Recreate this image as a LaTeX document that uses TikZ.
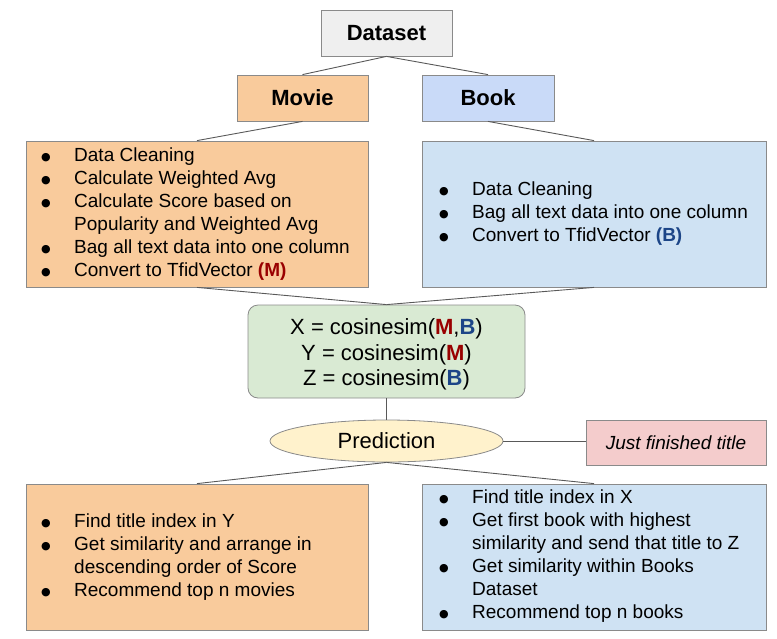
\documentclass[tikz,border=0pt]{standalone}
\usepackage{fontspec}
\setmainfont{Liberation Sans}
\newfontfamily\dejavu{DejaVu Sans}
\usetikzlibrary{shapes.geometric,shadows}
\definecolor{dsgray}{HTML}{EFEFEF}
\definecolor{orange}{HTML}{F9CB9C}
\definecolor{bookblue}{HTML}{C9DAF8}
\definecolor{listblue}{HTML}{CFE2F3}
\definecolor{cosgreen}{HTML}{D9EAD3}
\definecolor{predyellow}{HTML}{FFF2CC}
\definecolor{jftpink}{HTML}{F4CCCC}
\definecolor{bordergray}{HTML}{8A8A8A}
\definecolor{linegray}{HTML}{595959}
\definecolor{mred}{HTML}{990000}
\definecolor{bblue}{HTML}{1C4587}
\newcommand\bitem[1]{\makebox[33pt][l]{\raisebox{1.5pt}{\dejavu\fontsize{11}{12}\selectfont ●}}#1}
\newcommand\bcont[1]{\hspace*{33pt}#1}
\newcommand\MM{\textcolor{mred}{\textbf{M}}}
\newcommand\BB{\textcolor{bblue}{\textbf{B}}}
\begin{document}
\begin{tikzpicture}[x=1pt,y=-1pt,
  box/.style={draw=bordergray, line width=0.8pt, inner sep=0pt},
  conn/.style={draw=linegray, line width=0.9pt},
  txt/.style={inner sep=0pt, anchor=base west, font=\fontsize{19}{23}\selectfont},
  big/.style={font=\fontsize{22}{26}\selectfont\bfseries}]
\useasboundingbox (0,0) rectangle (777,638);
% boxes
\node[box, fill=dsgray, minimum width=131pt, minimum height=46pt, big,
  drop shadow={shadow xshift=1.2pt, shadow yshift=-1.2pt, opacity=0.35, fill=gray}]
  (dataset) at (386.5,33) {Dataset};
\node[box, fill=orange, minimum width=131pt, minimum height=46pt, big] (movie) at (302.5,98) {Movie};
\node[box, fill=bookblue, minimum width=132pt, minimum height=46pt, big] (book) at (488,98) {Book};
\node[box, fill=orange, minimum width=342pt, minimum height=146pt] (mlist) at (197,214) {};
\node[box, fill=listblue, minimum width=344pt, minimum height=146pt] (blist) at (594,214) {};
\node[box, fill=cosgreen, rounded corners=10pt, minimum width=277pt, minimum height=93pt] (cos) at (386.5,351.5) {};
\node[box, fill=predyellow, ellipse, minimum width=233pt, minimum height=42pt, font=\fontsize{22}{26}\selectfont] (pred) at (386.5,441) {Prediction};
\node[box, fill=jftpink, minimum width=180pt, minimum height=45pt, font=\fontsize{19}{23}\selectfont\itshape] (jft) at (676,442.5) {Just finished title};
\node[box, fill=orange, minimum width=342pt, minimum height=146pt] (bl) at (197,557) {};
\node[box, fill=listblue, minimum width=344pt, minimum height=146pt] (br) at (594,557) {};
% texts
\node[txt] (mtxt) at (41,161.8) {\begin{tabular}[t]{@{}l@{}}
\bitem{Data Cleaning}\\
\bitem{Calculate Weighted Avg}\\
\bitem{Calculate Score based on}\\
\bcont{Popularity and Weighted Avg}\\
\bitem{Bag all text data into one column}\\
\bitem{Convert to TfidVector \textbf{\textcolor{mred}{(M)}}}
\end{tabular}};
\node[txt] (btxt) at (439,195.8) {\begin{tabular}[t]{@{}l@{}}
\bitem{Data Cleaning}\\
\bitem{Bag all text data into one column}\\
\bitem{Convert to TfidVector \textbf{\textcolor{bblue}{(B)}}}
\end{tabular}};
\node[inner sep=0pt, anchor=base, font=\fontsize{22}{25.5}\selectfont] (costxt) at (386.5,334.9) {\begin{tabular}[t]{@{}c@{}}
X = cosinesim(\MM,\BB)\\
Y = cosinesim(\MM)\\
Z = cosinesim(\BB)
\end{tabular}};
\node[txt] (bltxt) at (41,527.8) {\begin{tabular}[t]{@{}l@{}}
\bitem{Find title index in Y}\\
\bitem{Get similarity and arrange in}\\
\bcont{descending order of Score}\\
\bitem{Recommend top n movies}
\end{tabular}};
\node[txt] (brtxt) at (439,503.8) {\begin{tabular}[t]{@{}l@{}}
\bitem{Find title index in X}\\
\bitem{Get first book with highest}\\
\bcont{similarity and send that title to Z}\\
\bitem{Get similarity within Books}\\
\bcont{Dataset}\\
\bitem{Recommend top n books}
\end{tabular}};
% connectors
\draw[conn] (dataset.south) -- (movie.north);
\draw[conn] (dataset.south) -- (book.north);
\draw[conn] (movie.south) -- (mlist.north);
\draw[conn] (book.south) -- (blist.north);
\draw[conn] (mlist.south) -- (cos.north);
\draw[conn] (blist.south) -- (cos.north);
\draw[conn] (cos.south) -- (pred.north);
\draw[conn] (pred.east) -- (jft.west |- pred.east);
\draw[conn] (pred.south) -- (bl.north);
\draw[conn] (pred.south) -- (br.north);
\end{tikzpicture}
\end{document}
